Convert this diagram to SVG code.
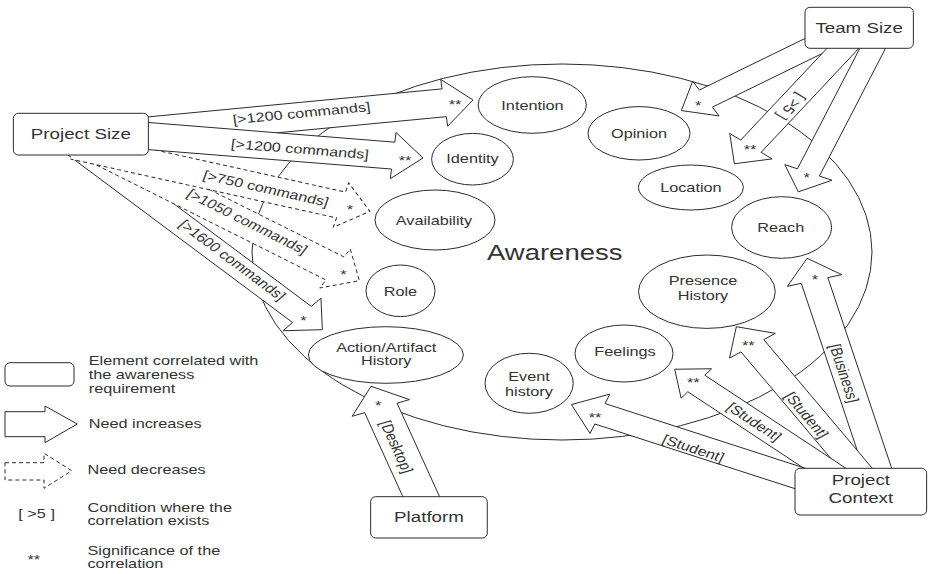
<svg xmlns="http://www.w3.org/2000/svg" width="931" height="574" viewBox="0 0 931 574">
<style>
.ln{fill:#fff;stroke:#2b2b2b;stroke-width:1;vector-effect:non-scaling-stroke}
.big{fill:none;stroke:#2b2b2b;stroke-width:1;vector-effect:non-scaling-stroke}
.dash{stroke-dasharray:4 3}
text{font-family:"Liberation Sans",Arial,sans-serif;fill:#333}
.n{font-size:15px;text-anchor:middle}
.e{font-size:13px;text-anchor:middle}
.lb{font-size:13px;text-anchor:middle}
.st{font-size:13px;text-anchor:middle}
.lg{font-size:13px}
.aw{font-size:22px}
</style>
<rect width="931" height="574" fill="#fff"/>
<g transform="scale(1.25,1)">
  <g id="awareness">
    <ellipse class="big" cx="449.6" cy="252" rx="248" ry="188"/>
    <text class="aw" x="389.6" y="260">Awareness</text>
  </g>
  <g id="intention"><ellipse class="ln" cx="425.8" cy="105" rx="43.3" ry="28.3"/><text class="e" x="426" y="109.7">Intention</text></g>
  <g id="identity"><ellipse class="ln" cx="378" cy="159.2" rx="32.7" ry="25.8"/><text class="e" x="378" y="163.5">Identity</text></g>
  <g id="availability"><ellipse class="ln" cx="348" cy="220" rx="48" ry="30"/><text class="e" x="347.2" y="224.7">Availability</text></g>
  <g id="opinion"><ellipse class="ln" cx="511.2" cy="133.3" rx="40.8" ry="26.7"/><text class="e" x="511.2" y="138">Opinion</text></g>
  <g id="location"><ellipse class="ln" cx="552.7" cy="187.5" rx="42" ry="22.5"/><text class="e" x="552.7" y="191.7">Location</text></g>
  <g id="reach"><ellipse class="ln" cx="625.3" cy="227.5" rx="40" ry="30.8"/><text class="e" x="624.6" y="232">Reach</text></g>
  <g id="presence-history"><ellipse class="ln" cx="565.5" cy="291.7" rx="54.7" ry="36.7"/><text class="e" x="562.4" y="284.7">Presence</text><text class="e" x="562.4" y="299.7">History</text></g>
  <g id="feelings"><ellipse class="ln" cx="499.2" cy="353.5" rx="39.2" ry="28.5"/><text class="e" x="500" y="356.4">Feelings</text></g>
  <g id="event-history"><ellipse class="ln" cx="423.3" cy="383.3" rx="35.3" ry="30"/><text class="e" x="423.2" y="381">Event</text><text class="e" x="423.2" y="396">history</text></g>
  <g id="role"><ellipse class="ln" cx="320.4" cy="290.8" rx="27.6" ry="25.8"/><text class="e" x="320.3" y="295.7">Role</text></g>
  <g id="action-artifact-history"><ellipse class="ln" cx="308.7" cy="355" rx="62" ry="28.3"/><text class="e" x="309" y="352">Action/Artifact</text><text class="e" x="309" y="365.5">History</text></g>

  <g id="connectors">
    <path class="ln" transform="translate(40,126.5) rotate(43)" d="M0,-11H275.6V-22.3L297.9,0L275.6,22.3V11H0"/>
    <path class="ln dash" transform="translate(50,132) rotate(32.05)" d="M0,-13.6H257.2V-23L280.2,0L257.2,23V13.6H0"/>
    <path class="ln dash" transform="translate(60,146.1) rotate(15.47)" d="M0,-13.4H220.8V-23L244.8,0L220.8,23V13.4H0"/>
    <path class="ln" transform="translate(80,135.6) rotate(-6.8)" d="M0,-14H277.3V-23.6L300.5,0L277.3,23.6V14H0"/>
    <path class="ln" transform="translate(80,132.2) rotate(5.7)" d="M0,-13.5H235.7V-23.2L259.7,0L235.7,23.2V13.5H0"/>

    <path class="ln" transform="translate(667.4,35.9) rotate(148.6)" d="M0,-10H120.3V-20.3L143.3,0L120.3,20.3V10H0"/>
    <path class="ln" transform="translate(681.9,38.3) rotate(126.96)" d="M0,-10.2H135V-21.2L157,0L135,21.2V10.2H0"/>
    <path class="ln" transform="translate(700.3,43.1) rotate(112.5)" d="M0,-9.5H140V-20.4L161,0L140,20.4V9.5H0"/>

    <path class="ln" transform="translate(704.7,478.5) rotate(-105)" d="M0,-11H205V-22.5L228,0L205,22.5V11H0"/>
    <path class="ln" transform="translate(691.4,478.4) rotate(-124)" d="M0,-11H160V-22.1L183,0L160,22.1V11H0"/>
    <path class="ln" transform="translate(672.8,478.9) rotate(-140.5)" d="M0,-10.7H150V-19.1L172.4,0L150,19.1V10.7H0"/>
    <path class="ln" transform="translate(665.4,488.7) rotate(-158)" d="M0,-11H200V-21.2L224.6,0L200,21.2V11H0"/>

    <path class="ln" transform="translate(342.3,511.3) rotate(-110)" d="M0,-13.8H110V-24.4L133,0L110,24.4V13.8H0"/>

    <text class="lb" transform="translate(241.2,113) rotate(-6.8)" y="4.6">[&gt;1200 commands]</text>
    <text class="lb" transform="translate(240,149) rotate(5.7)" y="4.6">[&gt;1200 commands]</text>
    <text class="lb" transform="translate(212.8,188.5) rotate(15.5)" y="4.6">[&gt;750 commands]</text>
    <text class="lb" transform="translate(198,221.5) rotate(32)" y="4.6">[&gt;1050 commands]</text>
    <text class="lb" transform="translate(186,260) rotate(43)" y="4.6">[&gt;1600 commands]</text>
    <text class="lb" transform="translate(633.3,106.7) rotate(127)" y="4.6">[ &gt;5 ]</text>
    <text class="lb" transform="translate(554.7,448.3) rotate(22)" y="4.6">[Student]</text>
    <text class="lb" transform="translate(603.4,421.7) rotate(39.5)" y="4.6">[Student]</text>
    <text class="lb" transform="translate(645.3,415) rotate(56)" y="4.6">[Student]</text>
    <text class="lb" transform="translate(675.4,373.3) rotate(75)" y="4.6">[Business]</text>
    <text class="lb" transform="translate(317.4,446.7) rotate(70)" y="4.6">[Desktop]</text>

    <text class="st" x="364" y="109">**</text>
    <text class="st" x="324" y="165">**</text>
    <text class="st" x="280" y="214">*</text>
    <text class="st" x="274.7" y="279">*</text>
    <text class="st" x="242.7" y="325.5">*</text>
    <text class="st" x="558.6" y="110">*</text>
    <text class="st" x="600" y="154">**</text>
    <text class="st" x="645.4" y="182">*</text>
    <text class="st" x="476" y="422">**</text>
    <text class="st" x="554.6" y="387">**</text>
    <text class="st" x="598.6" y="350.5">**</text>
    <text class="st" x="652" y="284">*</text>
    <text class="st" x="302.6" y="410">*</text>
  </g>

  <g id="project-size"><rect class="ln" x="10.7" y="113.3" width="108" height="41.7" rx="4" ry="5"/><text class="n" x="64.7" y="139.4">Project Size</text></g>
  <g id="team-size"><rect class="ln" x="644" y="7.3" width="86.7" height="41" rx="4" ry="5"/><text class="n" x="687.3" y="33.3">Team Size</text></g>
  <g id="project-context"><rect class="ln" x="636" y="468.3" width="105.3" height="46.7" rx="4" ry="5"/><text class="n" x="688.7" y="485.5">Project</text><text class="n" x="688.7" y="503.5">Context</text></g>
  <g id="platform"><rect class="ln" x="296.5" y="496.7" width="93.3" height="41.3" rx="4" ry="5"/><text class="n" x="343.2" y="522">Platform</text></g>

  <g id="legend">
    <rect class="ln" x="4" y="362.7" width="55.2" height="23.3" rx="4" ry="5"/>
    <text class="lg" x="71" y="365">Element correlated with</text>
    <text class="lg" x="71" y="379">the awareness</text>
    <text class="lg" x="71" y="393">requirement</text>
    <path class="ln" d="M4,411.7H36V406L61.8,424L36,442.7V436.7H4Z"/>
    <text class="lg" x="71" y="428.5">Need increases</text>
    <path class="ln dash" d="M4,462.7H35.2V453.3L57.4,470.7L35.2,488.3V480H4Z"/>
    <text class="lg" x="70" y="474.5">Need decreases</text>
    <text class="lg" x="29.3" y="518" text-anchor="middle">[ &gt;5 ]</text>
    <text class="lg" x="70" y="512">Condition where the</text>
    <text class="lg" x="70" y="525.5">correlation exists</text>
    <text class="lg" x="27" y="564" text-anchor="middle">**</text>
    <text class="lg" x="70" y="554.7">Significance of the</text>
    <text class="lg" x="70" y="568">correlation</text>
  </g>
</g>
</svg>
